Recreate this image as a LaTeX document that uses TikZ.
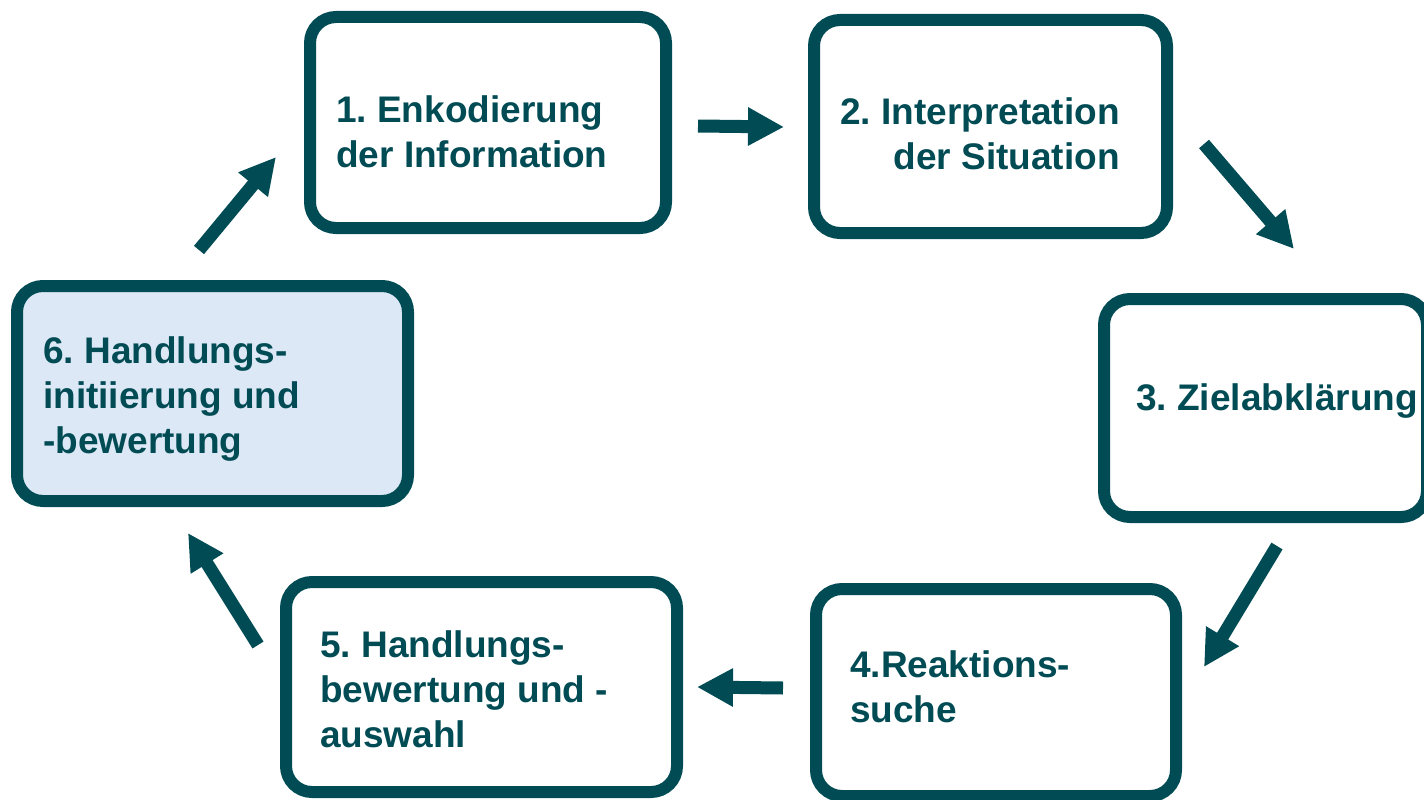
\documentclass[tikz,border=0pt]{standalone}
\usepackage{fontspec}
\setmainfont{Liberation Sans}
\usetikzlibrary{arrows.meta}
\definecolor{teal}{RGB}{0,75,84}
\definecolor{paleblue}{RGB}{220,232,245}
\frenchspacing
\begin{document}
\begin{tikzpicture}[x=1pt,y=-1pt,
  stepbox/.style={draw=teal,line width=12pt,rounded corners=26pt,fill=white,
    inner sep=0pt,anchor=center},
  steptext/.style={text=teal,inner sep=0pt,font=\fontsize{37}{45}\selectfont\bfseries},
  flow/.style={draw=teal,line width=13pt,
    -{Triangle[width=36pt,length=36pt]}}]
\useasboundingbox (0,0) rectangle (1424,800);

% process steps
\node[stepbox,minimum width=356pt,minimum height=211pt] (b1) at (488,122.5) {};
\node[stepbox,minimum width=353pt,minimum height=213pt] (b2) at (990.5,126.5) {};
\node[stepbox,minimum width=323pt,minimum height=218pt] (b3) at (1265.5,408) {};
\node[stepbox,minimum width=360pt,minimum height=207pt] (b4) at (996,692.5) {};
\node[stepbox,minimum width=391pt,minimum height=210pt] (b5) at (481.5,687) {};
\node[stepbox,fill=paleblue,minimum width=391pt,minimum height=215pt] (b6) at (212.5,393.5) {};

% step labels (base anchor sits on the last line)
\node[steptext,anchor=base west,align=left] (t1) at (336,167) {1. Enkodierung\\der Information};
\node[steptext,anchor=base east,align=right] (t2) at (1120,169) {2. Interpretation\\der Situation};
\node[steptext,anchor=base west,align=left] (t3) at (1136,410) {3. Zielabklärung};
\node[steptext,anchor=base west,align=left] (t4) at (850,722) {4.Reaktions-\\suche};
\node[steptext,anchor=base west,align=left] (t5) at (320,747) {5. Handlungs-\\bewertung und -\\auswahl};
\node[steptext,anchor=base west,align=left] (t6) at (43,453) {6. Handlungs-\\initiierung und\\-bewertung};

% arrow ends between the steps
\coordinate (a12s) at (698,126);  \coordinate (a12e) at (784,127);
\coordinate (a23s) at (1204,144); \coordinate (a23e) at (1294,249);
\coordinate (a34s) at (1277,546); \coordinate (a34e) at (1204,667);
\coordinate (a45s) at (783,688);  \coordinate (a45e) at (697,687);
\coordinate (a56s) at (258,645);  \coordinate (a56e) at (188,533);
\coordinate (a61s) at (199,250);  \coordinate (a61e) at (276,157);

\draw[flow] (a12s) -- (a12e);
\draw[flow] (a23s) -- (a23e);
\draw[flow] (a34s) -- (a34e);
\draw[flow] (a45s) -- (a45e);
\draw[flow] (a56s) -- (a56e);
\draw[flow] (a61s) -- (a61e);
\end{tikzpicture}
\end{document}
